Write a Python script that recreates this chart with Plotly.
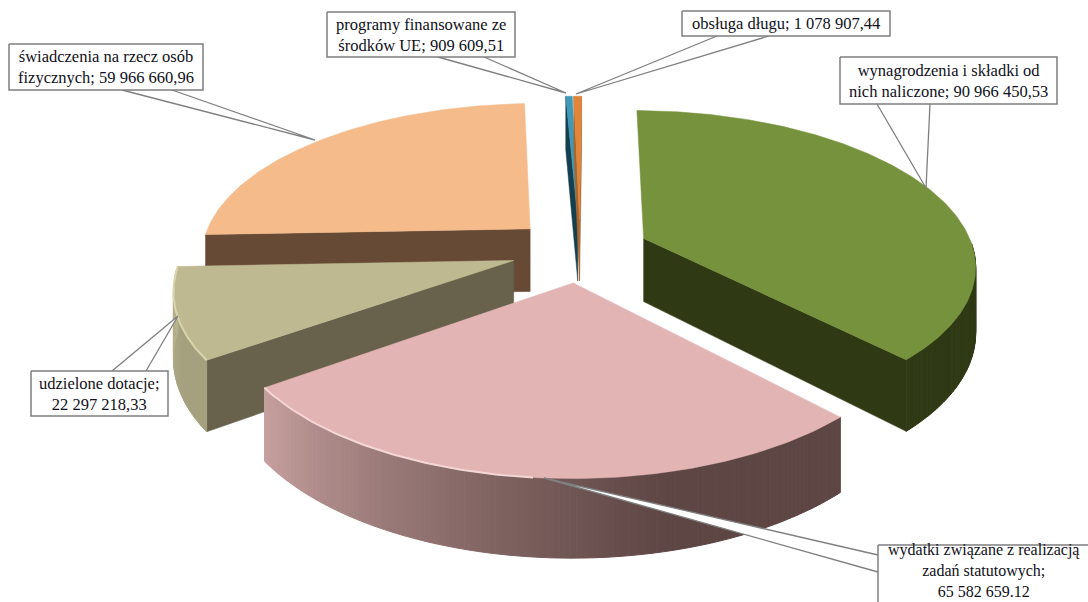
import math
import plotly.graph_objects as go

categories = ["obsługa długu", "wynagrodzenia i składki od nich naliczone",
              "wydatki związane z realizacją zadań statutowych", "udzielone dotacje",
              "świadczenia na rzecz osób fizycznych", "programy finansowane ze środków UE"]
values = [1078907.44, 90966450.53, 65582659.12, 22297218.33, 59966660.96, 909609.51]
top_colors = ["#e0853a", "#76923c", "#e3b4b4", "#bfb991", "#f5bb8b", "#3f9ab8"]
face_colors = ["#a9652d", "#2f3a15", "#5d4644", "#68624c", "#664a35", "#143f4e"]
wall_left = ["#e0853a", "#2f3a15", "#c6a09f", "#b8b38f", "#664a35", "#143f4e"]
wall_right = ["#e0853a", "#2f3a15", "#5d4644", "#a5a07e", "#664a35", "#143f4e"]
rim_colors = [None, None, "#f3d6d6", "#d9d6ae", None, None]
label_texts = ["obsługa długu; 1 078 907,44",
               "wynagrodzenia i składki od<br>nich naliczone; 90 966 450,53",
               "wydatki związane z realizacją<br>zadań statutowych;<br>65 582 659.12",
               "udzielone dotacje;<br>22 297 218,33",
               "świadczenia na rzecz osób<br>fizycznych; 59 966 660,96",
               "programy finansowane ze<br>środków UE; 909 609,51"]
# box x0, x1, y0, y1 and callout (base a, base b, tip)
boxes = [(682, 890, 11, 36), (840, 1057, 57, 104), (878, 1094, 545, 612),
         (31, 168, 371, 416), (9, 203, 44, 90), (327, 515, 12, 57)]
callouts = [((717, 36), (769, 36), (576, 94)), ((877, 104), (930, 104), (926, 188)),
            ((878, 555), (878, 572), (544, 478)), ((112, 371), (146, 371), (178, 316)),
            ((122, 90), (172, 90), (315, 140)), ((438, 57), (484, 57), (566, 93))]

CX, CY, RX, RY, K, PULL, DEPTH, ROT = 580, 250, 330, 152, 0.162, 0.21, 64, -1.2


def proj(u, v, drop=0.0):
    s = 1 + K * v
    return CX + RX * u / s, CY - RY * v / s + drop / s


def hex2rgb(h):
    return [int(h[i:i + 2], 16) for i in (1, 3, 5)]


def mix(a, b, t):
    ca, cb = hex2rgb(a), hex2rgb(b)
    return "rgb(%d,%d,%d)" % tuple(round(x + (y - x) * t) for x, y in zip(ca, cb))


fig = go.Figure()


def poly(pts, color, line=None, width=0.5):
    fig.add_trace(go.Scatter(x=[p[0] for p in pts] + [pts[0][0]], y=[p[1] for p in pts] + [pts[0][1]],
                             mode="lines", fill="toself", fillcolor=color,
                             line=dict(color=line or color, width=width), hoverinfo="skip", showlegend=False))


total = sum(values)
wedges = []
a = ROT
for i, val in enumerate(values):
    b = a + val / total * 360
    wedges.append((i, a, b))
    a = b

# painter's order, back to front
for i, s, e in [wedges[j] for j in (4, 5, 0, 1, 3, 2)]:
    mid = math.radians((s + e) / 2)
    au, av = PULL * math.sin(mid), PULL * math.cos(mid)
    n = max(4, int((e - s) / 0.75))
    angs = [s + (e - s) * t / n for t in range(n + 1)]
    arc = [(au + math.sin(math.radians(t)), av + math.cos(math.radians(t))) for t in angs]
    if math.sin(math.radians(s)) < 0:
        u, v = arc[0]
        poly([proj(au, av), proj(u, v), proj(u, v, DEPTH), proj(au, av, DEPTH)], face_colors[i])
    if math.sin(math.radians(e)) > 0:
        u, v = arc[-1]
        poly([proj(au, av), proj(u, v), proj(u, v, DEPTH), proj(au, av, DEPTH)], face_colors[i])
    for t in range(n):
        m = (angs[t] + angs[t + 1]) / 2
        if 92 < m % 360 < 268:
            f = (m - s) / (e - s)
            col = mix(wall_right[i], wall_left[i], max(0, min(1, (f - 0.3) / 0.7)) ** 1.1)
            p0, p1 = arc[t], arc[t + 1]
            poly([proj(*p0), proj(*p1), proj(*p1, DEPTH), proj(*p0, DEPTH)], col, width=1)
    poly([proj(au, av)] + [proj(u, v) for u, v in arc], top_colors[i])
    if rim_colors[i]:
        rim = [proj(u, v) for (u, v), t in zip(arc, angs) if t > 185]
        fig.add_trace(go.Scatter(x=[p[0] for p in rim], y=[p[1] for p in rim], mode="lines",
                                 line=dict(color=rim_colors[i], width=2), hoverinfo="skip", showlegend=False))

annotations = []
for (x0, x1, y0, y1), (pa, pb, tip), text in zip(boxes, callouts, label_texts):
    fig.add_trace(go.Scatter(x=[pa[0], tip[0], pb[0]], y=[pa[1], tip[1], pb[1]], mode="lines", fill="toself",
                             fillcolor="white", line=dict(color="#7f7f7f", width=1.3),
                             hoverinfo="skip", showlegend=False))
    fig.add_trace(go.Scatter(x=[x0, x1, x1, x0, x0], y=[y0, y0, y1, y1, y0], mode="lines", fill="toself",
                             fillcolor="white", line=dict(color="#7f7f7f", width=1.5),
                             hoverinfo="skip", showlegend=False))
    clipped = y1 >= 602
    cx = 984 if clipped else (x0 + x1) / 2
    cy = 570.5 if clipped else (y0 + y1) / 2
    annotations.append(dict(x=cx, y=cy, text=text, showarrow=False, xref="x", yref="y",
                            font=dict(family="Liberation Serif", size=16 if clipped else 16.5, color="#101020"),
                            align="center", xanchor="center", yanchor="middle"))

fig.update_layout(width=1088, height=602, margin=dict(l=0, r=0, t=0, b=0),
                  paper_bgcolor="white", plot_bgcolor="white", showlegend=False,
                  annotations=annotations,
                  xaxis=dict(range=[0, 1088], visible=False, fixedrange=True),
                  yaxis=dict(range=[602, 0], visible=False, fixedrange=True))
fig.write_html("out.html", config=dict(displayModeBar=False),
               post_script="document.body.style.margin='0';document.documentElement.style.overflow='hidden';")
